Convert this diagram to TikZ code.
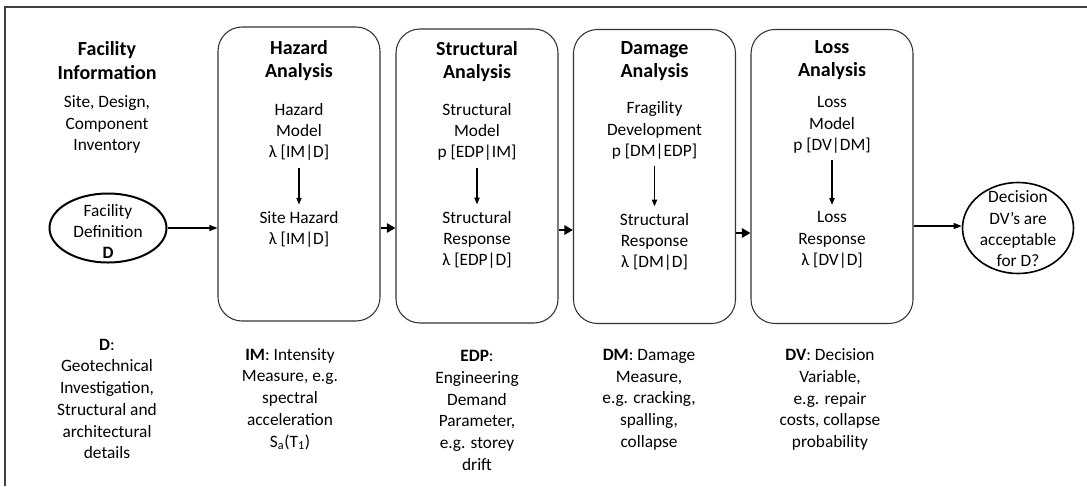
\documentclass[tikz,border=0pt]{standalone}
\usepackage{fontspec}
\setmainfont{Carlito}
\usetikzlibrary{arrows.meta,shapes.geometric}

\begin{document}
\begin{tikzpicture}[x=0.75pt,y=-0.75pt,
  stage/.style={draw=black!80, line width=0.8pt, rounded corners=18pt,
    minimum width=121.5pt, minimum height=220.5pt, inner sep=0pt},
  oval/.style={draw=black, ellipse, inner sep=0pt},
  title/.style={font=\fontsize{15}{17.5}\selectfont\bfseries, align=center, inner sep=0pt},
  body/.style={font=\fontsize{13}{16}\selectfont, align=center, inner sep=0pt},
  note/.style={font=\fontsize{13}{16.3}\selectfont, align=center, inner sep=0pt},
  thin arrow/.style={-{Triangle[length=6pt,width=4.5pt]}, line width=0.8pt},
  inner arrow/.style={-{Triangle[length=5pt,width=4pt]}, line width=0.8pt,
    shorten <=5pt, shorten >=5pt},
  flow arrow/.style={-{Triangle[length=6.5pt,width=7pt]}, line width=1.8pt},
]
\useasboundingbox (0,0) rectangle (1087,486);
% outer frame
\draw[black!75, line width=0.8pt] (5,486) -- (5,7) -- (1087,7);

% analysis stages
\node[stage] (haz) at (299,174) {};
\node[stage] (str) at (477,176) {};
\node[stage] (dam) at (654.5,176.5) {};
\node[stage] (los) at (832,176.5) {};

% facility information column
\node[title] (fit) at (107,60.5) {Facility\\Information};
\node[body] (fis) at (107,124.5) {Site, Design,\\Component\\Inventory};
\node[oval, line width=1.5pt, minimum width=87.75pt, minimum height=51.75pt] (fd) at (108,228) {};
\node[body] (fdt) at (108,231.5) {Facility\\Definition\\\textbf{D}};

% hazard analysis
\node[title] (hzt) at (299,60.5) {Hazard\\Analysis};
\node[body] (hzm) at (299,132) {Hazard\\Model\\λ [IM|D]};
\node[body] (hzr) at (299,229.5) {Site Hazard\\λ [IM|D]};

% structural analysis
\node[title] (stt) at (477,61.5) {Structural\\Analysis};
\node[body] (stm) at (477,132) {Structural\\Model\\p [EDP|IM]};
\node[body] (str2) at (477,240) {Structural\\Response\\λ [EDP|D]};

% damage analysis
\node[title] (dmt) at (654.5,61) {Damage\\Analysis};
\node[body] (dmm) at (654.5,130.5) {Fragility\\Development\\p [DM|EDP]};
\node[body] (dmr) at (654.5,242) {Structural\\Response\\λ [DM|D]};

% loss analysis
\node[title] (lst) at (832,60) {Loss\\Analysis};
\node[body] (lsm) at (832,125) {Loss\\Model\\p [DV|DM]};
\node[body] (lsr) at (832,240) {Loss\\Response\\λ [DV|D]};

% decision
\node[oval, line width=1.2pt, minimum width=83.25pt, minimum height=68.25pt] (dec) at (1018,228) {};
\node[body] (dect) at (1018,229) {Decision\\DV’s are\\acceptable\\for D?};

% variable definitions
\node[note] (nd) at (107,399) {\textbf{D}:\\Geotechnical\\Investigation,\\Structural and\\architectural\\details};
\node[note] (nim) at (290,399) {\textbf{IM}: Intensity\\Measure, e.g.\\spectral\\acceleration\\S\textsubscript{a}(T\textsubscript{1})};
\node[note] (nedp) at (477,410.5) {\textbf{EDP}:\\Engineering\\Demand\\Parameter,\\e.g. storey\\drift};
\node[note] (ndm) at (649,399.5) {\textbf{DM}: Damage\\Measure,\\e.g. cracking,\\spalling,\\collapse};
\node[note] (ndv) at (830,399.5) {\textbf{DV}: Decision\\Variable,\\e.g. repair\\costs, collapse\\probability};

% flow levels between stages
\coordinate (l1) at (0,228);
\coordinate (l2) at (0,230);
\coordinate (l3) at (0,233);
\coordinate (l4) at (0,226);

% connectors
\draw[thin arrow] (fd.east) -- (fd.east -| haz.west);
\draw[flow arrow] (haz.east |- l1) -- (str.west |- l1);
\draw[flow arrow] (str.east |- l2) -- (dam.west |- l2);
\draw[flow arrow] (dam.east |- l3) -- (los.west |- l3);
\draw[thin arrow] (los.east |- l4) -- (dec.west |- l4);

\draw[inner arrow] (hzm) -- (hzr);
\draw[inner arrow] (stm) -- (str2);
\draw[inner arrow] (dmm) -- (dmr);
\draw[inner arrow] (lsm) -- (lsr);
\end{tikzpicture}
\end{document}
